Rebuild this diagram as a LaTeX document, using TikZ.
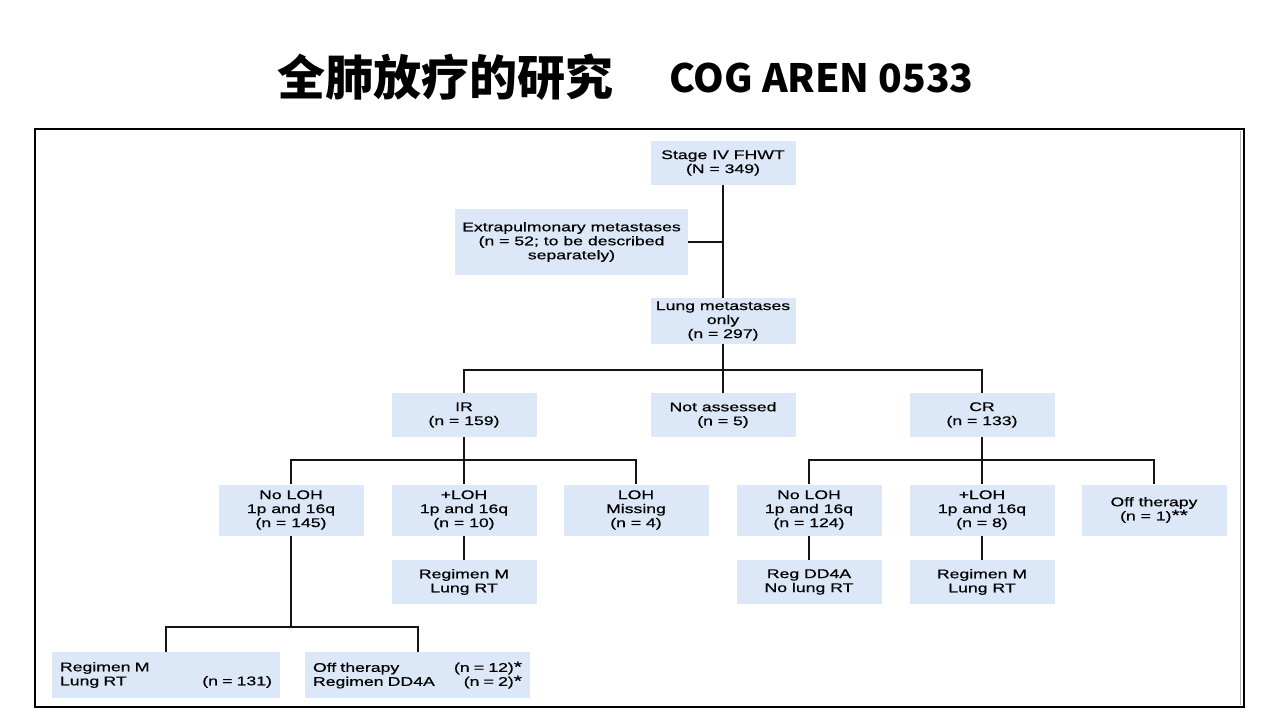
\documentclass[tikz,border=0pt]{standalone}
\usepackage{fontspec}
\setmainfont{Liberation Sans}[FakeStretch=1.4, FakeBold=0.6]
\newfontfamily\titlefont{Noto Sans CJK SC}
\usetikzlibrary{positioning}

\definecolor{boxblue}{HTML}{DCE8F8}
\definecolor{linedark}{HTML}{141414}

\newcommand{\starmark}[1]{{\fontsize{15}{14}\selectfont #1}}

\begin{document}
\begin{tikzpicture}[x=1pt,y=-1pt,
    box/.style={fill=boxblue, minimum width=145pt, minimum height=44pt, align=center,
        inner sep=2pt, font=\fontsize{12.6}{14}\selectfont},
    tallbox/.style={box, minimum height=51pt},
    widebox/.style={box, minimum width=228pt, minimum height=46pt, text width=212pt, align=left},
    link/.style={draw=linedark, line width=2pt},
    heading/.style={anchor=west, font=\titlefont\bfseries\fontsize{48}{52}\selectfont}]

        % Page and frame
        \useasboundingbox[fill=white] (0,0) rectangle (1280,720);
        \draw[line width=2pt] (35,129) rectangle (1244,707);
        \draw[gray!60, line width=1pt] (1240.5,131) -- (1240.5,705);

        % Title
        \node[heading] (title) at (274,77) {全肺放疗的研究};
        \node[heading, font=\titlefont\bfseries\fontsize{39}{44}\selectfont] (trial) at (666,78) {COG AREN 0533};

        % Top of the tree
        \node[box] (stage) at (723,163) {Stage IV FHWT\\(N = 349)};
        \node[box, minimum width=233pt, minimum height=66pt] (extra) at (571.5,242) {Extrapulmonary metastases\\(n = 52; to be described\\separately)};
        \node[box, minimum height=46pt] (lung) at (723,321) {Lung metastases\\only\\(n = 297)};

        % Response
        \node[box] (ir) at (464,415) {IR\\(n = 159)};
        \node[box] (notas) at (723,415) {Not assessed\\(n = 5)};
        \node[box] (cr) at (982,415) {CR\\(n = 133)};

        % LOH status
        \node[tallbox] (nolohA) at (291,510) {No LOH\\1p and 16q\\(n = 145)};
        \node[tallbox] (lohA) at (464,510) {+LOH\\1p and 16q\\(n = 10)};
        \node[tallbox] (lohmiss) at (636,510) {LOH\\Missing\\(n = 4)};
        \node[tallbox] (nolohB) at (809,510) {No LOH\\1p and 16q\\(n = 124)};
        \node[tallbox] (lohB) at (982,510) {+LOH\\1p and 16q\\(n = 8)};
        \node[tallbox] (offB) at (1154,510) {Off therapy\\(n = 1)\starmark{**}};

        % Treatment
        \node[box] (regA) at (464,582) {Regimen M\\Lung RT};
        \node[box] (dd4a) at (809,582) {Reg DD4A\\No lung RT};
        \node[box] (regB) at (982,582) {Regimen M\\Lung RT};
        \node[widebox] (regM) at (166,675) {Regimen M\\Lung RT\hfill(n = 131)};
        \node[widebox, minimum width=225pt, text width=209pt] (offA) at (417.5,675) {Off therapy\hfill(n = 12)\starmark{*}\\Regimen DD4A\hfill(n = 2)\starmark{*}};

        % Split points
        \coordinate (splitLung) at (723,370);
        \coordinate (splitIR) at (464,460);
        \coordinate (splitCR) at (982,460);
        \coordinate (splitNo) at (291,627);

        % Connectors
        \draw[link] (stage) -- (lung);
        \draw[link] (extra.east) -- (extra.east -| stage);
        \draw[link] (lung) -- (notas);
        \draw[link] (ir.north) |- (splitLung) -| (cr.north);
        \draw[link] (ir) -- (lohA);
        \draw[link] (nolohA.north) |- (splitIR) -| (lohmiss.north);
        \draw[link] (cr) -- (lohB);
        \draw[link] (nolohB.north) |- (splitCR) -| (offB.north);
        \draw[link] (lohA) -- (regA);
        \draw[link] (nolohB) -- (dd4a);
        \draw[link] (lohB) -- (regB);
        \draw[link] (nolohA) -- (splitNo);
        \draw[link] (regM.north) |- (splitNo) -| (offA.north);
\end{tikzpicture}
\end{document}
